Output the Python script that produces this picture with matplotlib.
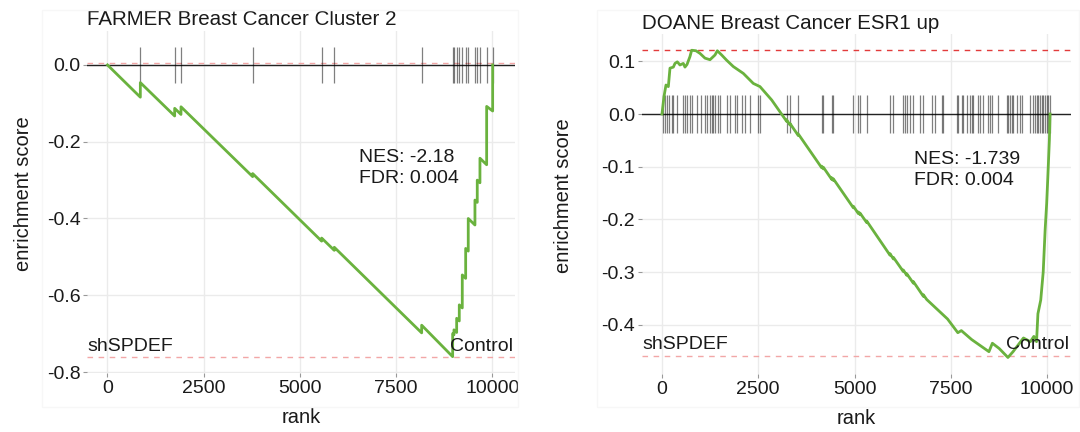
import matplotlib
matplotlib.use("Agg")
import matplotlib.pyplot as plt
from matplotlib.patches import Rectangle

plt.rcParams['font.family'] = ['Liberation Sans', 'DejaVu Sans']

# ---- FARMER Breast Cancer Cluster 2 ----
farmer_hits = [853, 1745, 1909, 3771, 5563, 5891, 8161, 8966, 9000, 9070, 9138,
               9216, 9304, 9371, 9545, 9605, 9675, 9849, 10005]
farmer_rank = [0, 853, 853, 1745, 1745, 1909, 1909, 3771, 3771, 5563, 5563,
               5891, 5891, 8161, 8161, 8966, 8966, 9000, 9000, 9070, 9070,
               9138, 9138, 9216, 9216, 9304, 9304, 9371, 9371, 9545, 9545,
               9605, 9605, 9675, 9675, 9849, 9849, 10005, 10005]
farmer_es = [0.0, -0.084, -0.046, -0.133, -0.113, -0.129, -0.109, -0.291, -0.283,
             -0.459, -0.451, -0.483, -0.475, -0.698, -0.678, -0.760, -0.700,
             -0.703, -0.690, -0.697, -0.660, -0.667, -0.625, -0.633, -0.547,
             -0.556, -0.478, -0.485, -0.400, -0.417, -0.352, -0.358, -0.300,
             -0.307, -0.243, -0.260, -0.108, -0.120, 0.0]
farmer_max, farmer_min = 0.004, -0.762
farmer_nes, farmer_fdr = "-2.18", "0.004"

# ---- DOANE Breast Cancer ESR1 up ----
doane_hits = [35, 78, 121, 191, 251, 294, 381, 554, 597, 658, 727, 771, 901, 1004,
              1117, 1160, 1247, 1290, 1333, 1377, 1463, 1506, 1680, 1766, 1896,
              1939, 2069, 2156, 2286, 2502, 2545, 3238, 3325, 3541, 4147, 4190,
              4407, 4450, 4970, 5100, 5143, 5316, 5922, 6009, 6268, 6312, 6355,
              6442, 6528, 6701, 6788, 7004, 7091, 7264, 7307, 7654, 7697, 7784,
              7827, 7914, 8000, 8044, 8087, 8217, 8260, 8346, 8476, 8519, 8563,
              8736, 8953, 8996, 9039, 9082, 9125, 9212, 9299, 9342, 9558, 9645,
              9688, 9732, 9775, 9818, 9861, 9905, 9948, 9991, 10034, 10078]
doane_rank = [0, 52, 104, 165, 208, 295, 338, 398, 467, 554, 597, 650, 727, 771,
              883, 987, 1117, 1247, 1377, 1437, 1550, 1680, 1853, 1983, 2113,
              2372, 2545, 2849, 3152,
              3238, 3238, 3325, 3325, 3541, 3541, 4147, 4147, 4190, 4190,
              4407, 4407, 4450, 4450, 4970, 4970, 5100, 5100, 5143, 5143,
              5316, 5316, 5922, 5922, 6009, 6009, 6268, 6268, 6355, 6355,
              6528, 6528, 6788, 6788, 6875,
              7416, 7683, 7774, 8042, 8491, 8580, 8758,
              8984, 9117, 9387, 9566, 9657, 9727, 9763, 9836, 9900, 9950, 9990,
              10020, 10060, 10078]
doane_es = [0.0, 0.033, 0.055, 0.052, 0.087, 0.089, 0.096, 0.099, 0.093, 0.096,
            0.089, 0.094, 0.109, 0.121, 0.120, 0.115, 0.106, 0.103, 0.112, 0.120,
            0.112, 0.102, 0.090, 0.0835, 0.077, 0.058, 0.052, 0.0266, -0.005,
            -0.014, -0.011, -0.021, -0.018, -0.041, -0.038, -0.102, -0.099,
            -0.104, -0.101, -0.124, -0.121, -0.126, -0.123, -0.178, -0.175,
            -0.189, -0.186, -0.191, -0.188, -0.206, -0.203, -0.268, -0.265,
            -0.275, -0.272, -0.299, -0.296, -0.306, -0.303, -0.321, -0.318,
            -0.346, -0.343, -0.352,
            -0.389, -0.415, -0.411, -0.428, -0.451, -0.435, -0.445,
            -0.462, -0.451, -0.425, -0.432, -0.422, -0.432, -0.379, -0.353,
            -0.300, -0.220, -0.170, -0.120, -0.050, 0.0]
doane_max, doane_min = 0.122, -0.460
doane_nes, doane_fdr = "-1.739", "0.004"

green = "#6AB23E"
ink = "#1A1A1A"
fig = plt.figure(figsize=(10.8, 4.32), dpi=100)

# very faint plot-background frames
for x0, x1 in [(42, 518), (597, 1079)]:
    fig.patches.append(Rectangle((x0 / 1080, 25 / 432), (x1 - x0) / 1080, 397 / 432,
                                 transform=fig.transFigure, fill=False,
                                 edgecolor="#F7F7F7", lw=1.0, zorder=0))

ax1 = fig.add_axes([0.081, 0.1366, 0.3958, 0.7917])
ax2 = fig.add_axes([0.5944, 0.1347, 0.3972, 0.7856])

panels = [
    (ax1, "FARMER Breast Cancer Cluster 2", farmer_hits, farmer_rank, farmer_es,
     farmer_max, farmer_min, farmer_nes, farmer_fdr, 0.048, (-0.8025, 0.0885),
     "#F2A7A7", 10584, [0.0, -0.2, -0.4, -0.6, -0.8], -0.128),
    (ax2, "DOANE Breast Cancer ESR1 up", doane_hits, doane_rank, doane_es,
     doane_max, doane_min, doane_nes, doane_fdr, 0.0365, (-0.493, 0.151),
     "#E23B3B", 10620, [0.1, 0.0, -0.1, -0.2, -0.3, -0.4], -0.161),
]

for ax, title, hits, rank, es, es_max, es_min, nes, fdr, hh, ylim, topcol, xr, yt, ylx in panels:
    ax.set_xlim(-520, xr)
    ax.set_ylim(*ylim)
    ax.set_xticks([0, 2500, 5000, 7500, 10000])
    ax.set_yticks(yt)
    ax.set_yticklabels([f"{v:.1f}" for v in yt])
    ax.grid(True, color="#EBEBEB", lw=1.0)
    ax.set_axisbelow(True)
    for s in ax.spines.values():
        s.set_visible(False)
    ax.tick_params(length=3, width=0.8, color="#999999", labelsize=14,
                   labelcolor=ink, pad=2)

    ax.axhline(0, color="#222222", lw=1.0, zorder=2)
    ax.axhline(es_max, color=topcol, lw=1.0, ls=(0, (4, 4)), zorder=2)
    ax.axhline(es_min, color="#F2A7A7", lw=1.0, ls=(0, (4, 4)), zorder=2)
    ax.vlines(hits, -hh, hh, color="black", alpha=0.5, lw=0.9, zorder=3)
    ax.plot(rank, es, color=green, lw=2.0, zorder=4)

    ax.text(0.0, es_min + 0.006, "shSPDEF", transform=ax.get_yaxis_transform(),
            ha="left", va="bottom", fontsize=14, color=ink, zorder=5)
    ax.text(0.995, es_min + 0.006, "Control", transform=ax.get_yaxis_transform(),
            ha="right", va="bottom", fontsize=14, color=ink, zorder=5)
    ax.text(0.635, 0.60, f"NES: {nes}\nFDR: {fdr}", transform=ax.transAxes,
            ha="left", va="center", fontsize=14, linespacing=1.35, color=ink)

    ax.set_title(title, loc="left", fontsize=14.8, pad=4, color=ink)
    ax.set_xlabel("rank", fontsize=14.5, labelpad=8, color=ink)
    ax.set_ylabel("enrichment score", fontsize=14.5, color=ink)
    ax.yaxis.set_label_coords(ylx, 0.525)

fig.savefig("out.png", dpi=100)
